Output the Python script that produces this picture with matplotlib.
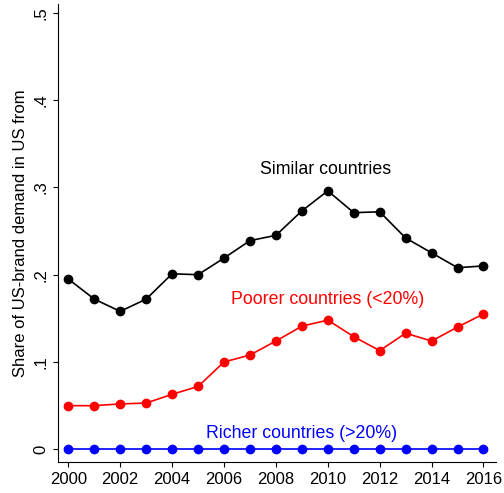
import matplotlib
matplotlib.use("Agg")
import matplotlib.pyplot as plt

plt.rcParams['font.family'] = ['Liberation Sans', 'DejaVu Sans']

years = list(range(2000, 2017))
similar = [0.195, 0.172, 0.158, 0.172, 0.201, 0.200, 0.219, 0.239, 0.245, 0.273,
           0.296, 0.271, 0.272, 0.242, 0.225, 0.208, 0.210]
poorer = [0.050, 0.050, 0.052, 0.053, 0.063, 0.072, 0.100, 0.108, 0.124, 0.141,
          0.148, 0.129, 0.113, 0.133, 0.124, 0.140, 0.155]
richer = [0.0] * 17

fig = plt.figure(figsize=(5.04, 4.93), dpi=100)
ax = fig.add_axes([0.115, 0.062, 0.87, 0.93])

ax.plot(years, similar, color="black", marker="o", markersize=6, lw=1.2)
ax.plot(years, poorer, color="red", marker="o", markersize=6, lw=1.2)
ax.plot(years, richer, color="blue", marker="o", markersize=6, lw=1.2)

ax.text(2009.9, 0.32, "Similar countries", ha="center", va="center", fontsize=12.8, color="black")
ax.text(2010.0, 0.171, "Poorer countries (<20%)", ha="center", va="center", fontsize=12.8, color="red")
ax.text(2009.0, 0.018, "Richer countries (>20%)", ha="center", va="center", fontsize=12.8, color="blue")

ax.set_xlim(1999.6, 2016.5)
ax.set_ylim(-0.015, 0.51)
ax.set_xticks(range(2000, 2017, 2))
ax.set_yticks([0, 0.1, 0.2, 0.3, 0.4, 0.5])
ax.set_yticklabels(["0", ".1", ".2", ".3", ".4", ".5"], rotation=90, va="center")
ax.tick_params(labelsize=12)
ax.set_ylabel("Share of US-brand demand in US from", fontsize=12)
ax.spines["top"].set_visible(False)
ax.spines["right"].set_visible(False)

fig.savefig("out.png")
